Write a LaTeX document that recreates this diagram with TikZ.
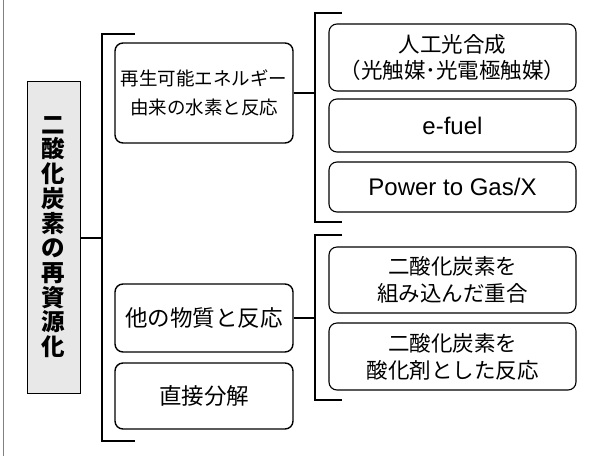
\documentclass[tikz,border=0pt]{standalone}
\usepackage{fontspec}
\setmainfont{Liberation Sans}
\newfontfamily\jp{Noto Sans CJK JP}
\begin{document}
\begin{tikzpicture}[x=1pt,y=-1pt,
  rbox/.style={draw, rounded corners=8pt, line width=1.1pt, align=center, inner sep=0pt},
  midbox/.style={rbox, line width=1.4pt, minimum width=178pt},
  rightbox/.style={rbox, minimum width=247pt},
  brk/.style={line width=2.6pt},
  conn/.style={line width=2.2pt}]
\useasboundingbox (0,0) rectangle (591,456);
\draw[gray, line width=1.5pt] (3.5,0) -- (3.5,456);

% left title box
\node[draw, line width=1pt, fill=black!9, minimum width=53pt, minimum height=312pt, inner sep=0pt,
  align=center, font=\jp\bfseries\fontsize{23.5}{24.7}\selectfont] (title) at (53.5,237)
  {二\\酸\\化\\炭\\素\\の\\再\\資\\源\\化};

% middle boxes
\node[midbox, minimum height=100pt, font=\jp\fontsize{18.5}{29}\selectfont] (m1) at (204,93)
  {再生可能エネルギー\\由来の水素と反応};
\node[midbox, minimum height=68pt, font=\jp\fontsize{22.5}{26}\selectfont] (m2) at (204,318)
  {他の物質と反応};
\node[midbox, minimum height=66pt, font=\jp\fontsize{22.5}{26}\selectfont] (m3) at (204,396)
  {直接分解};

% right boxes
\node[rightbox, minimum height=67pt, font=\jp\fontsize{21.5}{25.5}\selectfont] (r1) at (452.5,57.5)
  {人工光合成\\（光触媒･光電極触媒）};
\node[rightbox, minimum height=53pt, font=\fontsize{24}{28}\selectfont] (r2) at (452.5,125.5)
  {e-fuel};
\node[rightbox, minimum height=50pt, font=\fontsize{24}{28}\selectfont] (r3) at (452.5,187)
  {Power to Gas/X};
\node[rightbox, minimum height=66pt, font=\jp\fontsize{21.5}{27}\selectfont] (ra) at (452.5,280)
  {二酸化炭素を\\組み込んだ重合};
\node[rightbox, minimum height=67pt, font=\jp\fontsize{21.5}{27}\selectfont] (rb) at (452.5,356.5)
  {二酸化炭素を\\酸化剤とした反応};

% brackets
\coordinate (lb1) at (135,34);
\coordinate (lb2) at (102,34);
\coordinate (lb3) at (102,441);
\coordinate (lb4) at (135,441);
\draw[brk] (lb1) -- (lb2) -- (lb3) -- (lb4);
\draw[conn] (title.east |- 0,238) -- (lb2 |- 0,238);

\coordinate (rb1) at (342,13);
\coordinate (rb2) at (315,13);
\coordinate (rb3) at (315,222);
\coordinate (rb4) at (342,222);
\draw[brk] (rb1) -- (rb2) -- (rb3) -- (rb4);
\draw[conn] (m1.east) -- (rb2 |- m1.east);

\coordinate (rc1) at (342,235);
\coordinate (rc2) at (315,235);
\coordinate (rc3) at (315,400);
\coordinate (rc4) at (342,400);
\draw[brk] (rc1) -- (rc2) -- (rc3) -- (rc4);
\draw[conn] (m2.east) -- (rc2 |- m2.east);
\end{tikzpicture}
\end{document}
